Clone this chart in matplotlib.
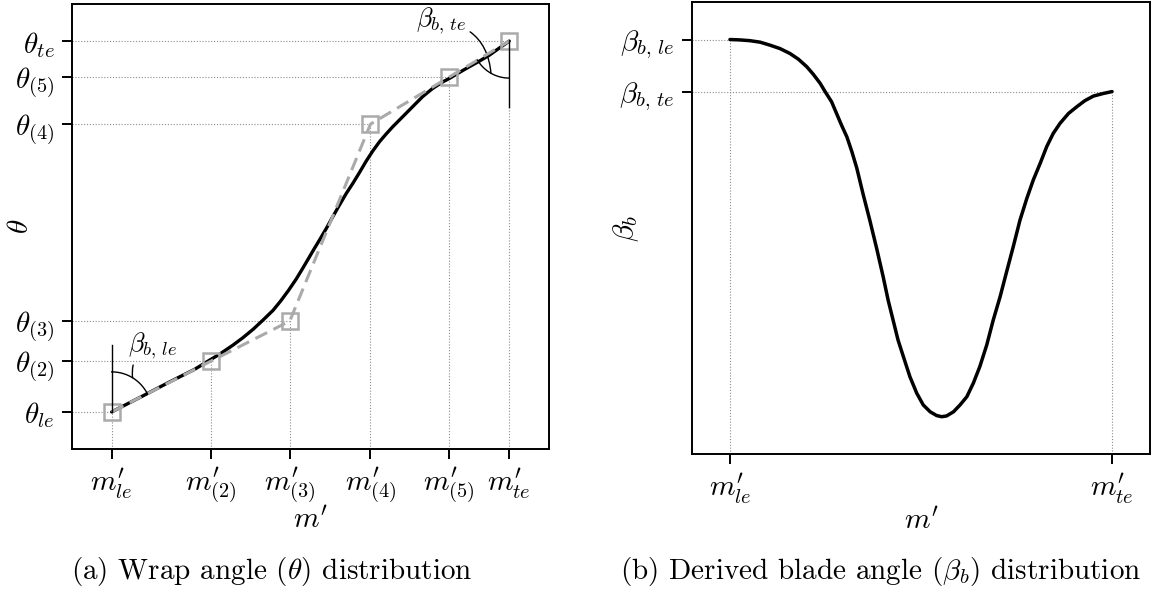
import numpy as np
import matplotlib
matplotlib.use("Agg")
import matplotlib.pyplot as plt

plt.rcParams["mathtext.fontset"] = "cm"
plt.rcParams["font.family"] = "serif"
plt.rcParams["font.serif"] = ["cmr10"]
plt.rcParams["axes.unicode_minus"] = False

# wrap angle control points (normalised m', theta)
ctrl_m = [0.0, 0.25, 0.448, 0.651, 0.849, 1.0]
ctrl_theta = [0.0, 0.137, 0.245, 0.776, 0.903, 1.0]
m_labels = [r"$m^{\prime}_{le}$", r"$m^{\prime}_{(2)}$", r"$m^{\prime}_{(3)}$",
            r"$m^{\prime}_{(4)}$", r"$m^{\prime}_{(5)}$", r"$m^{\prime}_{te}$"]
theta_labels = [r"$\theta_{le}$", r"$\theta_{(2)}$", r"$\theta_{(3)}$",
                r"$\theta_{(4)}$", r"$\theta_{(5)}$", r"$\theta_{te}$"]

# wrap angle curve
curve_m = [0.0, 0.071, 0.146, 0.209, 0.247, 0.272, 0.305, 0.330, 0.356, 0.381, 0.406, 0.425,
           0.445, 0.464, 0.481, 0.498, 0.510, 0.523, 0.540, 0.556, 0.573, 0.590, 0.607, 0.623,
           0.640, 0.657, 0.674, 0.690, 0.707, 0.732, 0.757, 0.782, 0.807, 0.833, 0.849, 0.874,
           0.900, 0.925, 0.950, 0.971, 1.0]
curve_theta = [0.0, 0.039, 0.081, 0.115, 0.140, 0.156, 0.180, 0.200, 0.223, 0.248, 0.274, 0.299,
               0.328, 0.358, 0.388, 0.419, 0.441, 0.464, 0.495, 0.526, 0.558, 0.589, 0.617, 0.645,
               0.676, 0.704, 0.729, 0.749, 0.769, 0.796, 0.823, 0.850, 0.872, 0.890, 0.899, 0.915,
               0.931, 0.946, 0.962, 0.978, 1.0]

# derived blade angle curve
beta_m = [0.0, 0.026, 0.052, 0.079, 0.105, 0.131, 0.157, 0.179, 0.201, 0.218, 0.236, 0.249,
          0.266, 0.279, 0.292, 0.306, 0.319, 0.332, 0.349, 0.366, 0.384, 0.401, 0.414, 0.427,
          0.440, 0.454, 0.471, 0.489, 0.506, 0.524, 0.541, 0.554, 0.567, 0.585, 0.602, 0.620,
          0.637, 0.654, 0.672, 0.689, 0.707, 0.724, 0.742, 0.759, 0.777, 0.794, 0.812, 0.829,
          0.846, 0.864, 0.886, 0.908, 0.929, 0.951, 0.977, 1.0]
beta_val = [1.0, 0.999, 0.997, 0.993, 0.985, 0.976, 0.963, 0.948, 0.928, 0.908, 0.884, 0.862,
            0.835, 0.804, 0.773, 0.742, 0.703, 0.659, 0.588, 0.521, 0.446, 0.371, 0.309, 0.256,
            0.203, 0.159, 0.106, 0.062, 0.031, 0.013, 0.003, 0.0, 0.002, 0.013, 0.031, 0.053,
            0.089, 0.133, 0.190, 0.256, 0.318, 0.384, 0.453, 0.521, 0.579, 0.628, 0.672, 0.716,
            0.751, 0.778, 0.804, 0.822, 0.838, 0.850, 0.857, 0.862]
beta_labels = [r"$\beta_{b,\,le}$", r"$\beta_{b,\,te}$"]

TICK_FS = 21
LAB_FS = 21
GUIDE = dict(color="#8c8c8c", lw=0.8, ls=(0, (1, 1.6)), zorder=1)

fig = plt.figure(figsize=(11.55, 6.05), dpi=100)
ax1 = fig.add_axes([0.0623, 0.2579, 0.413, 0.7355])
ax2 = fig.add_axes([0.5989, 0.2489, 0.397, 0.7481])

for ax in (ax1, ax2):
    for s in ax.spines.values():
        s.set_linewidth(1.4)
    ax.tick_params(direction="out", length=7.5, width=1.4, labelsize=TICK_FS, pad=5)
    ax.margins(0.1)

# ---- (a) wrap angle ----
ax1.plot(curve_m, curve_theta, color="black", lw=2.4, zorder=3, solid_capstyle="round",
         solid_joinstyle="round")
ax1.plot(ctrl_m, ctrl_theta, color="#aaaaaa", lw=2.2, dashes=(4.3, 2.3), zorder=4,
         marker="s", ms=11, mfc="none", mec="#aaaaaa", mew=1.8)
ax1.autoscale_view()
ax1.set_xlim(ax1.get_xlim())
ax1.set_ylim(ax1.get_ylim())
x0 = ax1.get_xlim()[0]
y0 = ax1.get_ylim()[0]
for m, t in zip(ctrl_m, ctrl_theta):
    ax1.plot([x0, m], [t, t], **GUIDE)
    ax1.plot([m, m], [y0, t], **GUIDE)
ax1.set_xticks(ctrl_m)
ax1.set_xticklabels(m_labels)
ax1.set_yticks(ctrl_theta)
ax1.set_yticklabels(theta_labels)
ax1.set_xlabel(r"$m^{\prime}$", fontsize=LAB_FS)
ax1.set_ylabel(r"$\theta$", fontsize=LAB_FS)
ax1.xaxis.set_label_coords(0.5, -0.13)
ax1.yaxis.set_label_coords(-0.08, 0.5)


def angle_mark(ax, i_pt, i_dir, ref_deg, radius, stem, label, offset, rad):
    # arc between a vertical reference line and the blade direction, in screen space
    inv = ax.transData.inverted()
    c = ax.transData.transform((ctrl_m[i_pt], ctrl_theta[i_pt]))
    d = ax.transData.transform((ctrl_m[i_dir], ctrl_theta[i_dir])) - c
    a = np.degrees(np.arctan2(d[1], d[0])) % 360
    phi = np.radians(np.linspace(a, ref_deg, 40))
    arc = inv.transform(c + radius * np.column_stack([np.cos(phi), np.sin(phi)]))
    ax.plot(arc[:, 0], arc[:, 1], color="black", lw=1.0, zorder=5)
    tip = inv.transform(c + stem * np.array([0, np.sign(np.sin(np.radians(ref_deg)))]))
    ax.plot([ctrl_m[i_pt], tip[0]], [ctrl_theta[i_pt], tip[1]], color="black", lw=1.0, zorder=5)
    mid = np.radians((a + ref_deg) / 2)
    xy = inv.transform(c + radius * np.array([np.cos(mid), np.sin(mid)]))
    ax.annotate(label, xy=xy, xytext=offset, textcoords="offset pixels",
                ha="center", va="center", fontsize=19,
                arrowprops=dict(arrowstyle="-", lw=1.0, color="black", shrinkA=1, shrinkB=0,
                                connectionstyle=f"arc3,rad={rad}"))


angle_mark(ax1, 0, 1, 90, 40, 67, beta_labels[0], (20, 32), 0.4)
angle_mark(ax1, 5, 4, 270, 37, 66, beta_labels[1], (-50, 52), -0.4)

# ---- (b) blade angle ----
ax2.plot(beta_m, beta_val, color="black", lw=2.5, zorder=3, solid_capstyle="round",
         solid_joinstyle="round")
ax2.autoscale_view()
ax2.set_xlim(ax2.get_xlim())
ax2.set_ylim(ax2.get_ylim())
bx0 = ax2.get_xlim()[0]
by0 = ax2.get_ylim()[0]
for m, b in [(beta_m[0], beta_val[0]), (beta_m[-1], beta_val[-1])]:
    ax2.plot([bx0, m], [b, b], **GUIDE)
    ax2.plot([m, m], [by0, b], **GUIDE)
ax2.set_xticks([beta_m[0], beta_m[-1]])
ax2.set_xticklabels([m_labels[0], m_labels[-1]])
ax2.set_yticks([beta_val[0], beta_val[-1]])
ax2.set_yticklabels(beta_labels)
ax2.set_xlabel(r"$m^{\prime}$", fontsize=LAB_FS)
ax2.set_ylabel(r"$\beta_b$", fontsize=LAB_FS)
ax2.xaxis.set_label_coords(0.5, -0.118)
ax2.yaxis.set_label_coords(-0.11, 0.5)

fig.text(272 / 1155, 1 - 572 / 605, r"(a) Wrap angle ($\theta$) distribution",
         ha="center", va="center", fontsize=21)
fig.text(881 / 1155, 1 - 572 / 605, r"(b) Derived blade angle ($\beta_b$) distribution",
         ha="center", va="center", fontsize=21)

fig.savefig("out.png", dpi=100)
